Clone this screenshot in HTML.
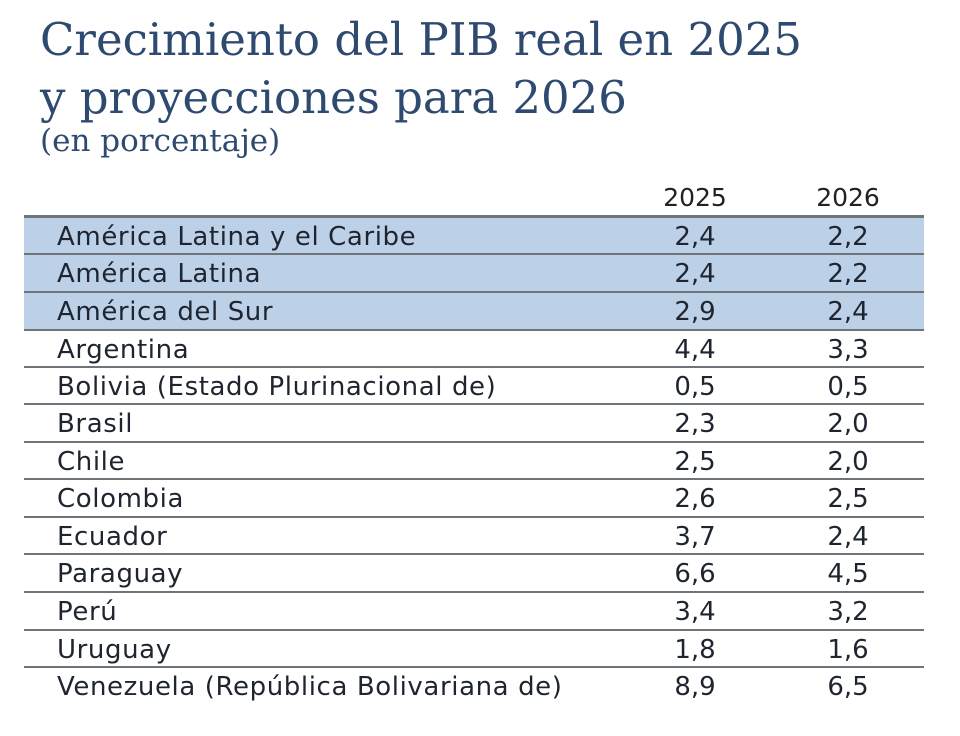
<!DOCTYPE html>
<html><head><meta charset="utf-8"><style>
body{margin:0;width:960px;height:736px;background:#fff;position:relative;overflow:hidden;font-family:"DejaVu Sans",sans-serif;}
.t{position:absolute;left:40px;font-family:"DejaVu Serif",serif;color:#2f4a70;white-space:nowrap;}
.h{position:absolute;top:183px;font-size:25px;color:#222;width:100px;text-align:center;}
.row{position:absolute;left:24px;width:900px;height:37px;border-bottom:2px solid #6f7478;font-size:26px;color:#1f2530;}
.row.b{background:#bcd0e8;}
.row span{position:absolute;top:4px;white-space:nowrap;}
.lb{left:33px;letter-spacing:0.6px;}
.n1{left:621px;width:100px;text-align:center;}
.n2{left:774px;width:100px;text-align:center;}
</style></head><body>
<div class="t" style="top:13px;font-size:45px;">Crecimiento del PIB real en 2025</div>
<div class="t" style="top:71px;font-size:45px;">y proyecciones para 2026</div>
<div class="t" style="top:123px;font-size:31px;">(en porcentaje)</div>
<div class="h" style="left:645px">2025</div>
<div class="h" style="left:798px">2026</div>
<div style="position:absolute;left:24px;top:215px;width:900px;height:3px;background:#6f7478"></div>
<div id="rows"></div>
<script>
var d=[["América Latina y el Caribe","2,4","2,2",1],["América Latina","2,4","2,2",1],["América del Sur","2,9","2,4",1],["Argentina","4,4","3,3"],["Bolivia (Estado Plurinacional de)","0,5","0,5"],["Brasil","2,3","2,0"],["Chile","2,5","2,0"],["Colombia","2,6","2,5"],["Ecuador","3,7","2,4"],["Paraguay","6,6","4,5"],["Perú","3,4","3,2"],["Uruguay","1,8","1,6"],["Venezuela (República Bolivariana de)","8,9","6,5",0,1]];
var h="";var tops=[218,255,293,331,368,405,443,480,518,555,593,631,668];
d.forEach(function(r,i){var y=tops[i];var nh=(i<12?tops[i+1]-y-2:37);h+='<div class="row'+(r[3]?' b':'')+'" style="top:'+y+'px;height:'+nh+'px;'+(r[4]?'border-bottom:none;':'')+'"><span class="lb">'+r[0]+'</span><span class="n1">'+r[1]+'</span><span class="n2">'+r[2]+'</span></div>';});
document.getElementById("rows").innerHTML=h;
</script>
</body></html>
